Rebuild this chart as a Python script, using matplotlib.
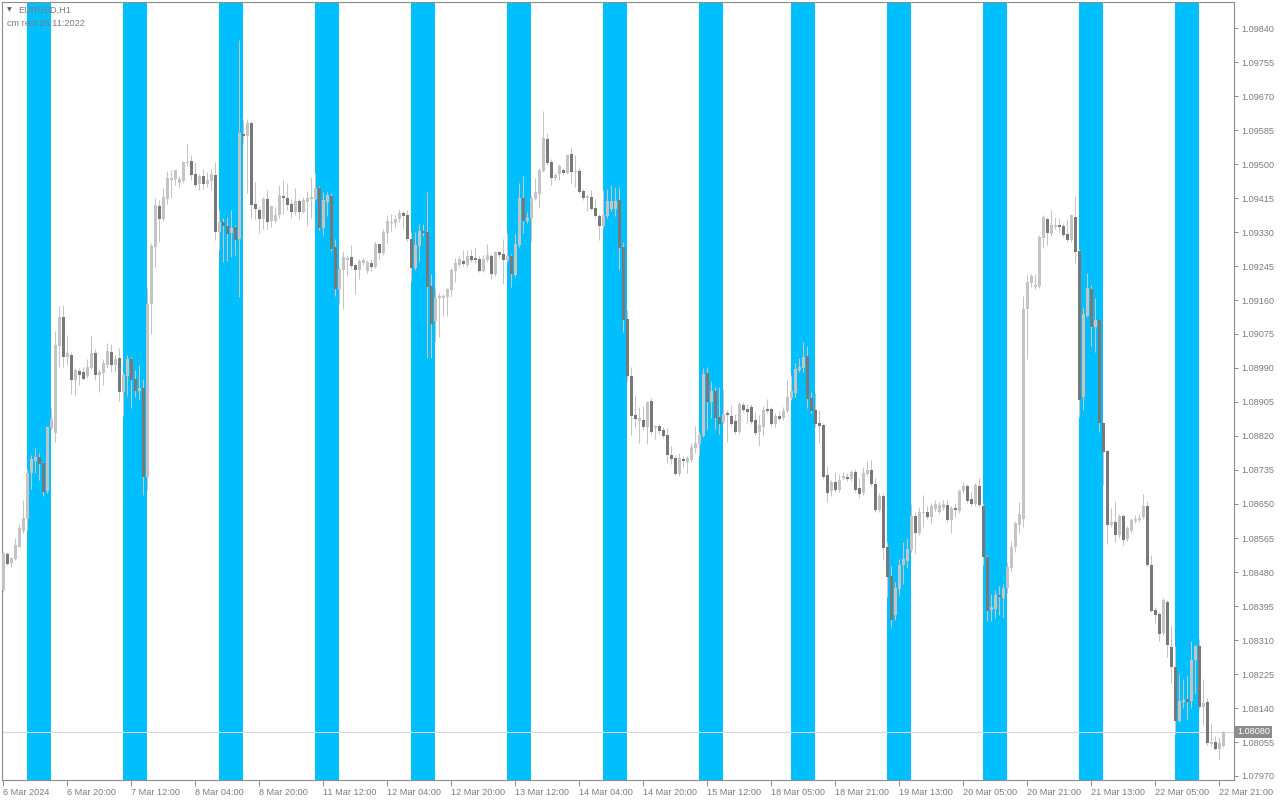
import numpy as np
import matplotlib
matplotlib.use("Agg")
import matplotlib.pyplot as plt

# EURUSD H1, one bar per hour from 6 Mar 2024 04:00 to 22 Mar 2024 22:00
# prices are in points (1 point = 0.00001)
open_pts = [
    108435, 108525, 108503, 108513, 108543, 108583, 108613, 108728, 108758, 108768,
    108753, 108683, 108840, 108828, 109045, 109118, 109018, 109023, 108960, 108983,
    108980, 108970, 108990, 109028, 108973, 108978, 108998, 109030, 108998, 109015,
    108930, 108970, 109013, 108963, 108933, 108940, 108718, 109150, 109293, 109395,
    109363, 109413, 109460, 109463, 109453, 109458, 109503, 109508, 109475, 109450,
    109470, 109450, 109458, 109473, 109330, 109355, 109345, 109328, 109343, 109313,
    109575, 109570, 109603, 109400, 109385, 109363, 109413, 109358, 109358, 109373,
    109420, 109415, 109400, 109380, 109408, 109380, 109405, 109413, 109413, 109440,
    109340, 109405, 109420, 109293, 109188, 109235, 109260, 109268, 109248, 109235,
    109253, 109233, 109253, 109243, 109300, 109278, 109328, 109353, 109353, 109363,
    109378, 109373, 109313, 109240, 109295, 109333, 109330, 109195, 109108, 109165,
    109165, 109168, 109185, 109233, 109248, 109258, 109248, 109270, 109265, 109263,
    109233, 109260, 109270, 109225, 109280, 109275, 109260, 109270, 109223, 109298,
    109415, 109358, 109365, 109413, 109425, 109483, 109563, 109505, 109465, 109475,
    109485, 109478, 109525, 109480, 109483, 109433, 109415, 109418, 109390, 109370,
    109345, 109370, 109388, 109388, 109410, 109293, 109113, 108970, 108873, 108858,
    108860, 108843, 108908, 108840, 108845, 108835, 108823, 108773, 108765, 108725,
    108763, 108755, 108760, 108790, 108800, 108820, 108978, 108905, 108933, 108868,
    108855, 108878, 108870, 108858, 108830, 108898, 108888, 108893, 108860, 108830,
    108843, 108888, 108888, 108850, 108870, 108865, 108883, 108915, 108928, 108985,
    108990, 109020, 108915, 108885, 108853, 108848, 108723, 108683, 108705, 108685,
    108715, 108718, 108713, 108730, 108690, 108678, 108725, 108735, 108700, 108635,
    108670, 108543, 108470, 108373, 108438, 108498, 108508, 108535, 108620, 108578,
    108628, 108630, 108618, 108638, 108630, 108640, 108648, 108610, 108640, 108633,
    108683, 108695, 108663, 108650, 108695, 108645, 108518, 108385, 108388, 108423,
    108415, 108440, 108490, 108543, 108598, 108613, 109138, 109203, 109193, 109195,
    109315, 109363, 109325, 109343, 109348, 109345, 109325, 109310, 109368, 109283,
    108918, 109120, 109188, 109093, 109110, 108853, 108783, 108598, 108605, 108573,
    108620, 108563, 108583, 108608, 108610, 108618, 108645, 108498, 108385, 108375,
    108328, 108405, 108293, 108243, 108108, 108155, 108163, 108158, 108260, 108295,
    108143, 108155, 108050, 108055, 108038, 108045,
]
high_pts = [
    108530, 108530, 108518, 108565, 108600, 108660, 108738, 108773, 108790, 108778,
    108755, 108845, 108890, 109083, 109145, 109148, 109073, 109030, 108990, 108990,
    108993, 109013, 109070, 109038, 108988, 109013, 109053, 109050, 109023, 109040,
    108978, 109023, 109018, 108985, 108998, 108963, 109190, 109303, 109415, 109410,
    109440, 109483, 109485, 109485, 109470, 109508, 109550, 109523, 109505, 109475,
    109488, 109480, 109488, 109505, 109385, 109365, 109368, 109385, 109348, 109810,
    109610, 109613, 109608, 109455, 109395, 109418, 109435, 109398, 109393, 109448,
    109460, 109453, 109413, 109440, 109413, 109418, 109433, 109468, 109478, 109445,
    109430, 109430, 109428, 109313, 109243, 109283, 109273, 109298, 109253, 109263,
    109265, 109260, 109263, 109308, 109303, 109338, 109373, 109375, 109373, 109388,
    109383, 109385, 109330, 109330, 109350, 109350, 109430, 109225, 109190, 109178,
    109175, 109190, 109240, 109265, 109270, 109285, 109285, 109288, 109290, 109270,
    109273, 109300, 109275, 109283, 109283, 109313, 109328, 109275, 109328, 109453,
    109470, 109380, 109423, 109465, 109490, 109633, 109578, 109513, 109478, 109500,
    109490, 109525, 109543, 109523, 109493, 109438, 109425, 109435, 109413, 109375,
    109435, 109438, 109448, 109443, 109443, 109305, 109135, 108993, 108923, 108893,
    108895, 108908, 108915, 108848, 108850, 108843, 108840, 108795, 108773, 108778,
    108770, 108770, 108803, 108845, 108830, 108990, 108993, 108958, 108943, 108943,
    108938, 108885, 108898, 108875, 108905, 108905, 108900, 108900, 108880, 108873,
    108895, 108913, 108893, 108878, 108883, 108893, 108960, 108973, 109003, 109015,
    109055, 109045, 108930, 108928, 108885, 108853, 108745, 108710, 108730, 108725,
    108730, 108728, 108735, 108738, 108715, 108743, 108758, 108760, 108715, 108678,
    108678, 108555, 108495, 108455, 108513, 108555, 108565, 108650, 108630, 108643,
    108673, 108645, 108653, 108660, 108655, 108660, 108660, 108645, 108653, 108688,
    108705, 108700, 108680, 108703, 108715, 108650, 108523, 108425, 108435, 108445,
    108450, 108505, 108558, 108608, 108655, 109170, 109223, 109225, 109225, 109323,
    109373, 109368, 109385, 109368, 109365, 109353, 109363, 109375, 109420, 109288,
    109143, 109228, 109198, 109165, 109113, 108855, 108785, 108640, 108658, 108625,
    108625, 108595, 108615, 108623, 108625, 108675, 108658, 108523, 108393, 108380,
    108415, 108410, 108345, 108295, 108225, 108213, 108220, 108308, 108298, 108313,
    108213, 108165, 108103, 108070, 108068, 108083,
]
low_pts = [
    108430, 108498, 108493, 108510, 108543, 108578, 108585, 108688, 108728, 108710,
    108670, 108678, 108835, 108805, 108993, 108993, 108998, 108925, 108923, 108948,
    108960, 108965, 108988, 108960, 108930, 108948, 108993, 108980, 108980, 108908,
    108870, 108920, 108890, 108918, 108913, 108673, 108685, 109075, 109240, 109305,
    109358, 109400, 109418, 109448, 109443, 109453, 109495, 109460, 109443, 109435,
    109438, 109443, 109435, 109310, 109285, 109255, 109258, 109268, 109273, 109168,
    109553, 109428, 109365, 109363, 109328, 109338, 109338, 109343, 109353, 109365,
    109375, 109385, 109365, 109373, 109363, 109378, 109345, 109365, 109410, 109335,
    109323, 109370, 109283, 109170, 109150, 109138, 109220, 109240, 109175, 109213,
    109248, 109228, 109233, 109240, 109260, 109273, 109300, 109333, 109343, 109355,
    109338, 109308, 109208, 109235, 109258, 109320, 109015, 109015, 109055, 109068,
    109120, 109120, 109170, 109205, 109243, 109245, 109243, 109255, 109253, 109230,
    109230, 109255, 109213, 109220, 109268, 109200, 109255, 109193, 109218, 109293,
    109328, 109353, 109308, 109410, 109393, 109480, 109498, 109448, 109460, 109460,
    109473, 109475, 109453, 109443, 109428, 109410, 109383, 109385, 109365, 109310,
    109340, 109365, 109383, 109370, 109235, 109080, 108955, 108823, 108840, 108803,
    108835, 108800, 108825, 108813, 108825, 108815, 108753, 108750, 108723, 108720,
    108743, 108728, 108755, 108778, 108773, 108818, 108838, 108865, 108838, 108825,
    108850, 108805, 108845, 108825, 108825, 108880, 108853, 108850, 108823, 108795,
    108820, 108878, 108845, 108843, 108858, 108860, 108878, 108910, 108918, 108980,
    108980, 108890, 108878, 108843, 108803, 108713, 108655, 108670, 108680, 108680,
    108710, 108708, 108708, 108680, 108665, 108673, 108720, 108695, 108630, 108630,
    108510, 108418, 108343, 108360, 108423, 108450, 108490, 108530, 108528, 108573,
    108593, 108613, 108603, 108633, 108625, 108635, 108605, 108578, 108618, 108628,
    108678, 108653, 108645, 108645, 108643, 108498, 108358, 108358, 108365, 108373,
    108368, 108428, 108480, 108530, 108578, 108593, 109013, 109193, 109188, 109190,
    109290, 109298, 109320, 109338, 109330, 109318, 109305, 109305, 109253, 108868,
    108885, 109118, 109045, 109030, 108830, 108698, 108550, 108593, 108555, 108565,
    108548, 108558, 108578, 108603, 108605, 108613, 108493, 108380, 108353, 108308,
    108323, 108268, 108203, 108075, 108105, 108140, 108113, 108140, 108175, 108138,
    108098, 108048, 108045, 108035, 108013, 108043,
]
close_pts = [
    108528, 108500, 108515, 108548, 108590, 108615, 108728, 108763, 108768, 108750,
    108680, 108843, 108863, 109048, 109118, 109018, 109028, 108960, 108985, 108973,
    108963, 108993, 109028, 108973, 108980, 109003, 109033, 108998, 109013, 108930,
    108973, 109013, 108960, 108933, 108940, 108718, 109150, 109295, 109398, 109363,
    109418, 109465, 109465, 109485, 109463, 109505, 109505, 109473, 109448, 109470,
    109450, 109460, 109475, 109330, 109355, 109345, 109325, 109340, 109310, 109578,
    109570, 109603, 109398, 109388, 109363, 109413, 109355, 109395, 109373, 109423,
    109415, 109398, 109380, 109408, 109380, 109410, 109415, 109418, 109440, 109340,
    109410, 109423, 109288, 109188, 109238, 109268, 109265, 109245, 109235, 109258,
    109260, 109255, 109243, 109300, 109278, 109330, 109358, 109355, 109363, 109378,
    109370, 109313, 109240, 109298, 109333, 109328, 109193, 109100, 109165, 109170,
    109170, 109188, 109235, 109253, 109263, 109250, 109270, 109260, 109260, 109233,
    109263, 109273, 109225, 109280, 109273, 109260, 109270, 109225, 109300, 109415,
    109358, 109365, 109415, 109430, 109485, 109565, 109503, 109465, 109473, 109495,
    109478, 109523, 109480, 109483, 109430, 109415, 109420, 109388, 109370, 109345,
    109373, 109408, 109408, 109408, 109290, 109110, 108970, 108870, 108863, 108865,
    108843, 108905, 108830, 108845, 108833, 108820, 108773, 108763, 108725, 108765,
    108758, 108765, 108793, 108803, 108823, 108975, 108905, 108933, 108865, 108850,
    108875, 108873, 108850, 108830, 108900, 108885, 108880, 108855, 108828, 108848,
    108885, 108883, 108850, 108870, 108863, 108883, 108918, 108933, 108988, 108993,
    109018, 108913, 108883, 108850, 108845, 108718, 108678, 108705, 108685, 108710,
    108720, 108713, 108730, 108685, 108675, 108728, 108735, 108700, 108635, 108670,
    108540, 108468, 108360, 108440, 108498, 108513, 108538, 108620, 108578, 108630,
    108630, 108618, 108645, 108650, 108648, 108650, 108610, 108640, 108635, 108683,
    108695, 108658, 108650, 108698, 108648, 108518, 108383, 108393, 108423, 108418,
    108440, 108493, 108543, 108603, 108625, 109138, 109205, 109220, 109198, 109318,
    109368, 109328, 109348, 109348, 109343, 109323, 109310, 109373, 109280, 108910,
    109125, 109190, 109093, 109110, 108853, 108780, 108598, 108605, 108573, 108620,
    108560, 108590, 108610, 108613, 108615, 108645, 108498, 108383, 108373, 108325,
    108410, 108298, 108243, 108108, 108158, 108160, 108155, 108260, 108295, 108143,
    108153, 108053, 108055, 108038, 108053, 108080,
]

# time axis labels, one every 16 bars
time_labels = [
    "6 Mar 2024", "6 Mar 20:00", "7 Mar 12:00", "8 Mar 04:00", "8 Mar 20:00",
    "11 Mar 12:00", "12 Mar 04:00", "12 Mar 20:00", "13 Mar 12:00", "14 Mar 04:00",
    "14 Mar 20:00", "15 Mar 12:00", "18 Mar 05:00", "18 Mar 21:00", "19 Mar 13:00",
    "20 Mar 05:00", "20 Mar 21:00", "21 Mar 13:00", "22 Mar 05:00", "22 Mar 21:00",
]
label_every = 16

# "cm rect" boxes: first bar of each box (10:00 each day), 6 bars long
rect_start_bars = [6, 30, 54, 78, 102, 126, 150, 174, 197, 221, 245, 269, 293]
rect_bars = 6

price_ticks = [
    1.07970, 1.08055, 1.08140, 1.08225, 1.08310, 1.08395, 1.08480, 1.08565,
    1.08650, 1.08735, 1.08820, 1.08905, 1.08990, 1.09075, 1.09160, 1.09245,
    1.09330, 1.09415, 1.09500, 1.09585, 1.09670, 1.09755, 1.09840,
]
last_price = 1.08080

n = len(close_pts)
assert len(open_pts) == len(high_pts) == len(low_pts) == n, (
    len(open_pts), len(high_pts), len(low_pts), n)

o = np.array(open_pts) / 1e5
h = np.array(high_pts) / 1e5
l = np.array(low_pts) / 1e5
c = np.array(close_pts) / 1e5
x = np.arange(n)

BULL = "#c4c4c4"
BEAR = "#787878"
RECT = "#00bfff"
TXT = "#7c7c7c"
FRAME = "#8c8c8c"

fig = plt.figure(figsize=(12.8, 8), dpi=100)
ax = fig.add_axes([2 / 1280, 20 / 800, 1232 / 1280, 778 / 800])

for s in rect_start_bars:
    ax.axvspan(s, s + rect_bars, color=RECT, lw=0, zorder=0)

ax.axhline(last_price, color="#d8d8d8", lw=0.8, zorder=1)

ax.vlines(x, l, h, color=BULL, lw=0.75, zorder=2)
body = np.maximum(np.abs(c - o), 0.000025)
cols = np.where(c >= o, BULL, BEAR)
ax.bar(x, body, bottom=np.minimum(o, c), width=0.75, color=cols,
       linewidth=0, zorder=3)

ax.set_xlim(-0.25, 307.75)
ax.set_ylim(1.07960, 1.09905)

# time scale
ax.set_xticks(np.arange(len(time_labels)) * label_every)
ax.set_xticklabels(time_labels, ha="left", family="Liberation Sans")
ax.tick_params(axis="x", direction="out", length=4, width=0.7, color=FRAME,
               labelcolor=TXT, labelsize=6.6, pad=1.5)

# price scale
ax.yaxis.tick_right()
ax.set_yticks(price_ticks)
ax.set_yticklabels([f"{p:.5f}" for p in price_ticks], family="Liberation Sans")
ax.tick_params(axis="y", direction="out", length=3, width=0.7, color=FRAME,
               labelcolor=TXT, labelsize=6.6, pad=2)

for sp in ax.spines.values():
    sp.set_color(FRAME)
    sp.set_linewidth(0.8)

ax.annotate(f"{last_price:.5f}", xy=(1, last_price),
            xycoords=("axes fraction", "data"), xytext=(3, 0),
            textcoords="offset pixels", ha="left", va="center",
            color="white", fontsize=6.6, family="Liberation Sans",
            bbox=dict(boxstyle="square,pad=0.2", fc="#8c8c8c", ec="none"),
            annotation_clip=False, zorder=6)

# chart header
fig.text(7 / 1280, 1 - 10 / 800, "\u25bc", fontsize=4.5, family="DejaVu Sans",
         color="#606060", va="center", zorder=5)
fig.text(18 / 1280, 1 - 10 / 800, "EURUSD,H1", fontsize=6.6,
         family="Liberation Sans", color=TXT, va="center", zorder=5)
fig.text(7 / 1280, 1 - 23 / 800, "cm rect 25:11:2022", fontsize=6.6,
         family="Liberation Sans", color=TXT, va="center", zorder=5)

fig.savefig("out.png", dpi=100, facecolor="white")
